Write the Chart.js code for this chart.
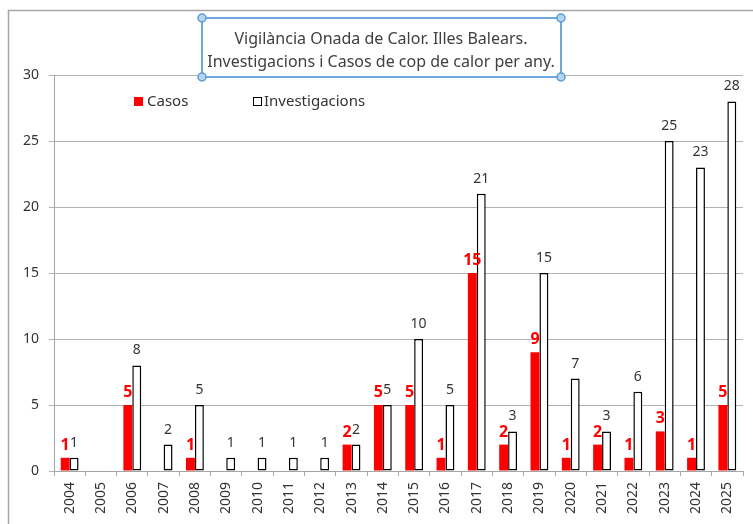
<!DOCTYPE html>
<html lang="ca">
<head>
  <meta charset="UTF-8" />
  <title>Vigilància Onada de Calor</title>
  <script src="https://cdn.jsdelivr.net/npm/chart.js"></script>
  <style>
    body { margin: 0; background: #fff; }
    #wrap { width: 753px; height: 524px; position: relative; }
  </style>
</head>
<body>
  <div id="wrap"><canvas id="grafic"></canvas></div>

  <script>
    const anys = ['2004', '2005', '2006', '2007', '2008', '2009', '2010', '2011', '2012', '2013', '2014',
      '2015', '2016', '2017', '2018', '2019', '2020', '2021', '2022', '2023', '2024', '2025'];
    const casos = [1, null, 5, null, 1, null, null, null, null, 2, 5, 5, 1, 15, 2, 9, 1, 2, 1, 3, 1, 5];
    const investigacions = [1, null, 8, 2, 5, 1, 1, 1, 1, 2, 5, 10, 5, 21, 3, 15, 7, 3, 6, 25, 23, 28];
    const titol = ['Vigilància Onada de Calor. Illes Balears.', 'Investigacions i Casos de cop de calor per any.'];

    const FONT = '"Noto Sans", "DejaVu Sans", sans-serif';

    // etiquetes, llegenda, caixa del títol i vora
    const extres = {
      id: 'extres',
      afterDraw(chart) {
        const ctx = chart.ctx;
        ctx.save();

        // valors sobre les barres
        const metaC = chart.getDatasetMeta(0);
        const metaI = chart.getDatasetMeta(1);
        ctx.textAlign = 'center';
        ctx.textBaseline = 'alphabetic';
        metaI.data.forEach((bar, i) => {
          if (investigacions[i] == null) return;
          ctx.font = '14px ' + FONT;
          ctx.fillStyle = '#333333';
          ctx.fillText(investigacions[i], bar.x, bar.y - 11);
        });
        metaC.data.forEach((bar, i) => {
          if (casos[i] == null) return;
          ctx.font = 'bold 16px ' + FONT;
          ctx.fillStyle = '#ff0000';
          ctx.fillText(casos[i], bar.x, bar.y - 8);
        });

        // llegenda
        ctx.textAlign = 'left';
        ctx.textBaseline = 'middle';
        ctx.font = '15px ' + FONT;
        ctx.fillStyle = '#ff0000';
        ctx.fillRect(134, 97, 9, 9);
        ctx.fillStyle = '#333333';
        ctx.fillText('Casos', 147, 101.5);
        ctx.strokeStyle = '#000';
        ctx.lineWidth = 1;
        ctx.fillStyle = '#fff';
        ctx.fillRect(253.5, 97.5, 8, 8);
        ctx.strokeRect(253.5, 97.5, 8, 8);
        ctx.fillStyle = '#333333';
        ctx.fillText('Investigacions', 264, 101.5);

        // caixa del títol
        ctx.fillStyle = '#fff';
        ctx.fillRect(202, 18, 359, 59);
        ctx.strokeStyle = '#6fa8dc';
        ctx.lineWidth = 2;
        ctx.strokeRect(202, 18, 359, 59);
        ctx.fillStyle = '#404040';
        ctx.font = '16px ' + FONT;
        ctx.textAlign = 'center';
        ctx.fillText(titol[0], 381, 39);
        ctx.fillText(titol[1], 381, 62);
        [[202, 18], [561, 18], [202, 77], [561, 77]].forEach(p => {
          ctx.beginPath();
          ctx.arc(p[0], p[1], 4, 0, Math.PI * 2);
          ctx.fillStyle = '#b4d4f2';
          ctx.fill();
          ctx.lineWidth = 1.5;
          ctx.strokeStyle = '#5b9bd5';
          ctx.stroke();
        });

        // vora exterior
        ctx.strokeStyle = '#a6a6a6';
        ctx.lineWidth = 1.5;
        ctx.beginPath();
        ctx.moveTo(8.5, 524);
        ctx.lineTo(8.5, 10.5);
        ctx.lineTo(753, 10.5);
        ctx.stroke();

        ctx.restore();
      }
    };

    new Chart(document.getElementById('grafic'), {
      type: 'bar',
      data: {
        labels: anys,
        datasets: [{
          label: 'Casos',
          data: casos,
          backgroundColor: '#ff0000',
          borderWidth: 0
        }, {
          label: 'Investigacions',
          data: investigacions,
          backgroundColor: '#ffffff',
          borderColor: '#000000',
          borderWidth: 1.5,
          borderSkipped: false
        }]
      },
      options: {
        responsive: true,
        maintainAspectRatio: false,
        animation: false,
        layout: { padding: { left: 0, top: 75, right: 10, bottom: 0 } },
        datasets: { bar: { categoryPercentage: 0.57, barPercentage: 1 } },
        plugins: {
          legend: { display: false },
          tooltip: { enabled: false }
        },
        scales: {
          x: {
            afterFit(scale) { scale.height = 53; },
            grid: { drawOnChartArea: false, drawTicks: true, tickLength: 5, color: '#a6a6a6', offset: true },
            border: { color: '#a6a6a6', width: 1 },
            ticks: {
              minRotation: 90, maxRotation: 90, autoSkip: false, padding: 6,
              color: '#333333', font: { family: FONT, size: 14 }
            }
          },
          y: {
            min: 0, max: 30,
            afterFit(scale) { scale.width = 54; },
            grid: { color: '#b3b3b3', tickLength: 5 },
            border: { color: '#a6a6a6', width: 1 },
            ticks: {
              stepSize: 5, padding: 10,
              color: '#333333', font: { family: FONT, size: 14 }
            }
          }
        }
      },
      plugins: [extres]
    });
  </script>
</body>
</html>
